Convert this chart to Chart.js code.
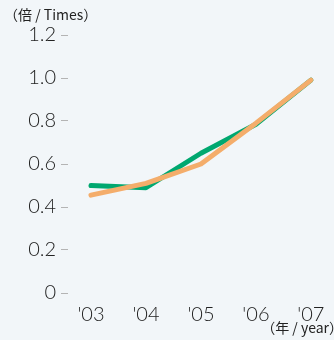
<!DOCTYPE html>
<html>
<head>
<meta charset="utf-8">
<script src="https://cdn.jsdelivr.net/npm/chart.js@4/dist/chart.umd.min.js"></script>
<style>
  html, body { margin: 0; padding: 0; background: #f2f6f9; }
  #wrap { position: relative; width: 334px; height: 340px; }
</style>
</head>
<body>
<div id="wrap"><canvas id="c" width="334" height="340"></canvas></div>
<script>
// Fiscal years on the horizontal axis
const years = ["'03", "'04", "'05", "'06", "'07"];
// Two ratio series (times)
const greenSeries = [0.50, 0.49, 0.65, 0.785, 0.99];
const orangeSeries = [0.455, 0.51, 0.60, 0.79, 0.99];
// Vertical tick labels
const yTickLabels = ['0', '0.2', '0.4', '0.6', '0.8', '1.0', '1.2'];

const toPoints = arr => arr.map((v, i) => ({ x: i, y: v }));

const unitLabels = {
  id: 'unitLabels',
  afterDraw(chart) {
    const ctx = chart.ctx;
    ctx.save();
    ctx.fillStyle = '#222';
    ctx.font = '14px "Noto Sans CJK JP", "Noto Sans", sans-serif';
    ctx.textBaseline = 'middle';
    ctx.textAlign = 'left';
    ctx.fillText('（倍 / Times）', 4, 15);
    ctx.textAlign = 'right';
    ctx.fillText('（年 / year）', 343, 328);
    ctx.restore();
  }
};

new Chart(document.getElementById('c'), {
  type: 'line',
  data: {
    datasets: [
      {
        label: 'orange',
        data: toPoints(orangeSeries),
        borderColor: '#f4ad6b',
        borderWidth: 5,
        pointRadius: 0,
        borderCapStyle: 'round',
        borderJoinStyle: 'round',
        tension: 0,
        order: 0
      },
      {
        label: 'green',
        data: toPoints(greenSeries),
        borderColor: '#00a870',
        borderWidth: 5,
        pointRadius: 0,
        borderCapStyle: 'round',
        borderJoinStyle: 'round',
        tension: 0,
        order: 1
      }
    ]
  },
  options: {
    responsive: false,
    animation: false,
    devicePixelRatio: 1,
    layout: { padding: { top: 35, left: 0, right: 0, bottom: 0 } },
    plugins: { legend: { display: false }, tooltip: { enabled: false } },
    scales: {
      x: {
        type: 'linear',
        min: -0.418,
        max: 4.42,
        grid: { display: false },
        border: { display: false },
        afterBuildTicks(scale) {
          scale.ticks = years.map((_, i) => ({ value: i }));
        },
        afterFit(scale) { scale.height = 47; },
        ticks: {
          padding: 2,
          maxRotation: 0,
          autoSkip: false,
          color: '#222',
          font: { family: 'Lato', size: 20, weight: 300 },
          callback: v => years[v]
        }
      },
      y: {
        min: 0,
        max: 1.2,
        afterBuildTicks(scale) {
          scale.ticks = yTickLabels.map(t => ({ value: parseFloat(t) }));
        },
        afterFit(scale) { scale.width = 68; },
        grid: { drawOnChartArea: false, drawTicks: true, tickLength: 7, color: '#b4b4b4', lineWidth: 1 },
        border: { display: false },
        ticks: {
          padding: 5,
          color: '#222',
          font: { family: 'Lato', size: 20, weight: 300 },
          callback: (v, i) => yTickLabels[i]
        }
      }
    }
  },
  plugins: [unitLabels]
});
</script>
</body>
</html>
